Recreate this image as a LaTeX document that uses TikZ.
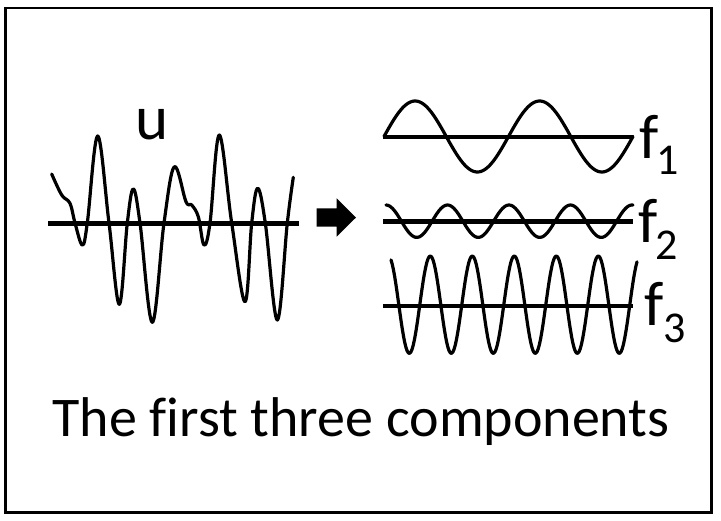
\documentclass[tikz,border=0pt]{standalone}
\usepackage{fontspec}
\setmainfont{Carlito}
\tikzset{
  wave/.style={line width=3.2pt, line join=round, line cap=round},
  axisline/.style={line width=4.4pt},
  lab/.style={inner sep=0pt, anchor=base west, font=\fontsize{63}{63}\selectfont},
  framebox/.style={line width=2.8pt},
}
\newcommand\subfnt{\fontsize{44}{44}\selectfont}
\begin{document}
\begin{tikzpicture}[x=1pt,y=-1pt]
\useasboundingbox (0,0) rectangle (721,520);
\draw[framebox] (5.3,8) rectangle (711.7,512.3);

% input signal u
\draw[axisline] (48.3,223.3) -- (299.3,223.3);
\draw[wave] plot[smooth, tension=0.6] coordinates {
  (51.7,174) (61.7,195) (70,203.3) (75,223) (82.3,245) (87.3,223)
  (97.7,136) (109,223) (119.3,304.3) (127.3,223) (133.3,189) (140,223)
  (152.3,322.3) (164,223) (174.3,166.7) (186,201.7) (191.7,205) (198.3,216.7)
  (204,245) (210,223) (219.3,135) (231.7,223) (245,301.7) (251.7,223)
  (257.7,188.3) (265.3,223) (277.3,320) (287.3,223) (293.3,177.3)};
\node[lab] (u) at (135.3,139.3) {u};

% arrow
\fill (316.7,208.3) -- (336.7,208.3) -- (336.7,198.3) -- (356,217.5)
  -- (336.7,236.7) -- (336.7,226.7) -- (316.7,226.7) -- cycle;

% f1
\draw[axisline] (383,136.7) -- (633,136.7);
\draw[wave] plot[domain=384:633, samples=150] (\x,{136.5-35.5*sin((\x-384)*2.8916)});
\node[lab] (f1) at (639,158.3) {f\kern-1.7pt\raisebox{-16pt}{\subfnt 1}};

% f2
\draw[axisline] (383,221.5) -- (633,221.5);
\draw[wave] plot[domain=386:633, samples=150] (\x,{221.2-16.2*cos((\x-386)*5.8537)});
\node[lab] (f2) at (638,242.7) {f\kern-1.5pt\raisebox{-16.3pt}{\subfnt 2}};

% f3
\draw[axisline] (383,306) -- (633,306);
\draw[wave] plot[domain=391:637, samples=200] (\x,{304.7+48.7*cos((\x-409.3)*8.5714)});
\node[lab] (f3) at (644,325) {f\raisebox{-17.7pt}{\subfnt 3}};

% caption
\node[inner sep=0pt, anchor=base, font=\fontsize{56}{56}\selectfont] (title) at (361,436.7) {The f\kern0pt irst three components};
\end{tikzpicture}
\end{document}
